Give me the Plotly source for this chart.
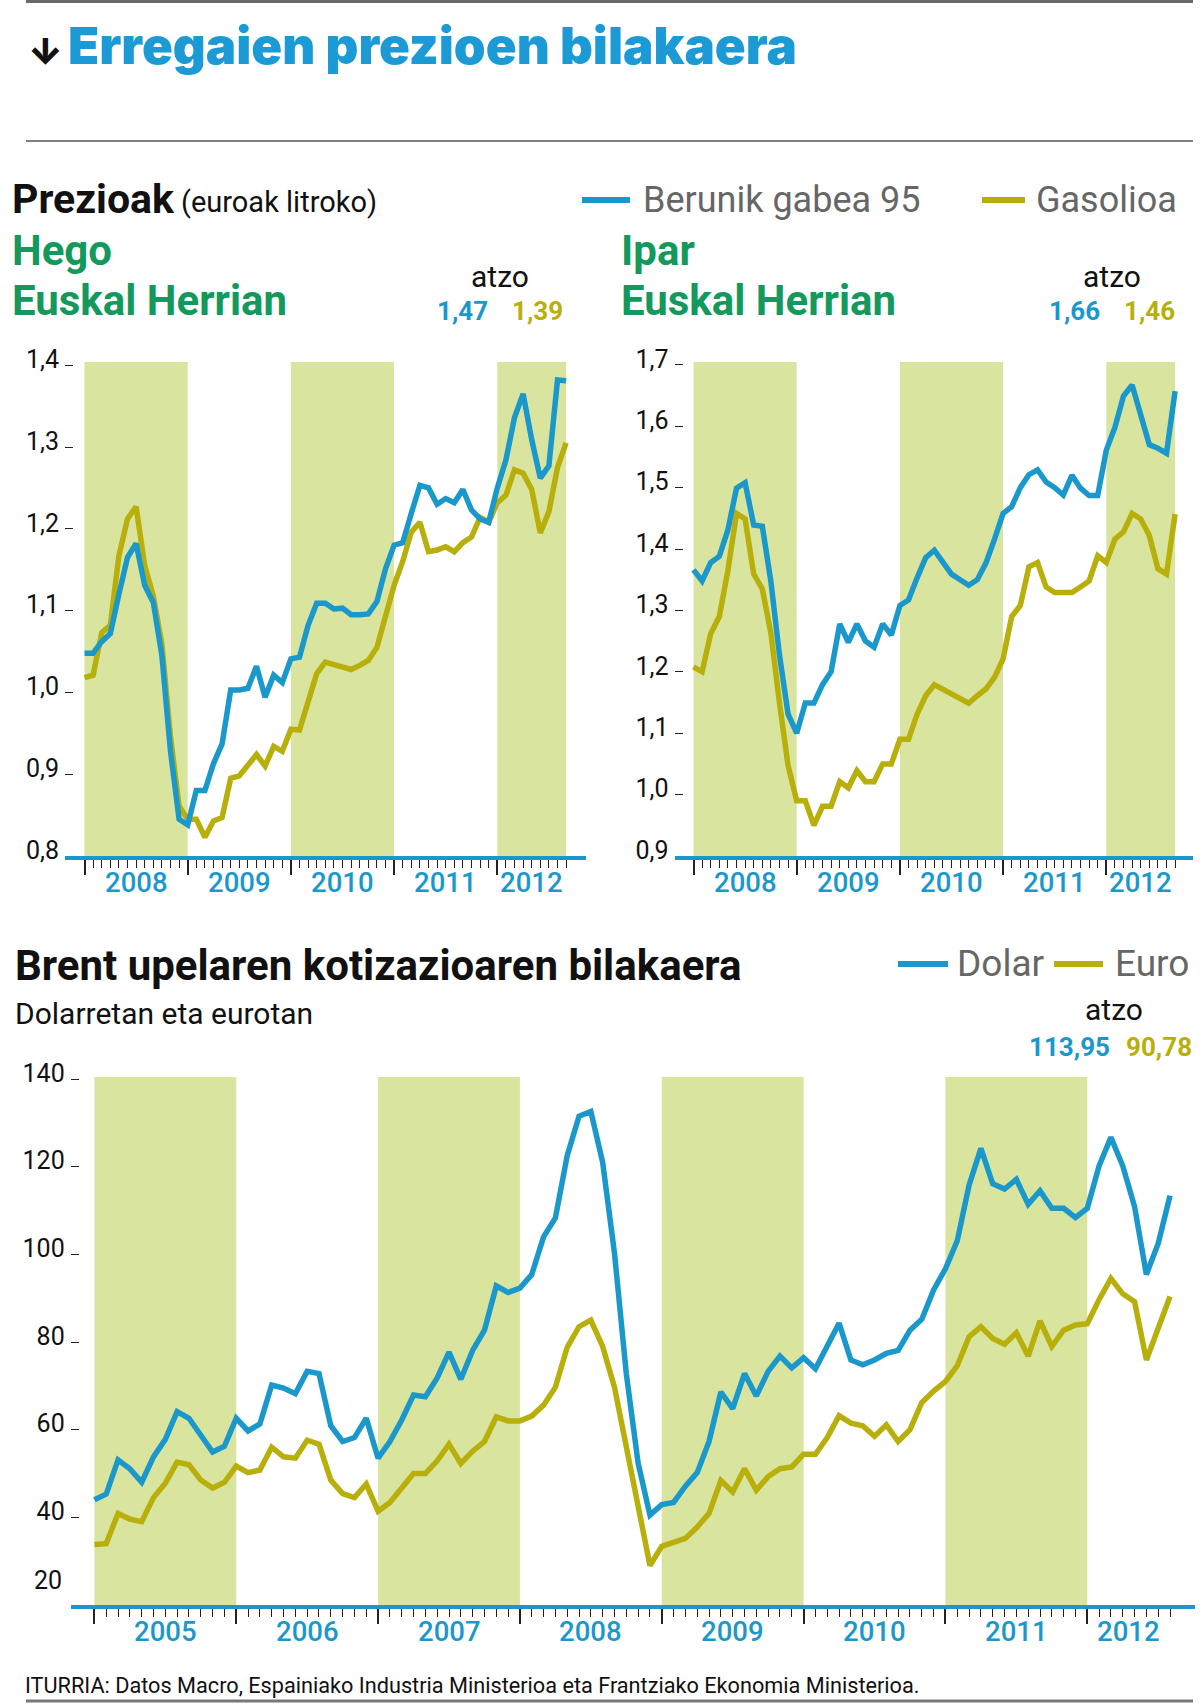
import plotly.graph_objects as go

W, H = 1200, 1704

# ---------------- DATA ----------------
top_years = [2008, 2009, 2010, 2011, 2012]
top_shaded_years = [2008, 2010, 2012]

# Hego Euskal Herria (euro / litro), monthly Jan 2008 - Sep 2012
hego_gasolina = [1.048, 1.048, 1.062, 1.072, 1.120, 1.165, 1.182, 1.131, 1.110, 1.045,
                 0.928, 0.845, 0.838, 0.880, 0.880, 0.913, 0.937, 1.003, 1.003, 1.005,
                 1.032, 0.994, 1.021, 1.012, 1.041, 1.043, 1.082, 1.109, 1.109, 1.102,
                 1.103, 1.095, 1.095, 1.096, 1.111, 1.151, 1.180, 1.183, 1.219, 1.253,
                 1.250, 1.230, 1.237, 1.232, 1.248, 1.223, 1.212, 1.208, 1.250, 1.284,
                 1.336, 1.365, 1.309, 1.262, 1.277, 1.382, 1.381]
hego_gasolioa = [1.018, 1.021, 1.073, 1.082, 1.167, 1.212, 1.227, 1.155, 1.118, 1.059,
                 0.946, 0.861, 0.845, 0.845, 0.823, 0.843, 0.847, 0.895, 0.898, 0.910,
                 0.924, 0.910, 0.934, 0.928, 0.955, 0.954, 0.991, 1.023, 1.037, 1.034,
                 1.031, 1.028, 1.033, 1.039, 1.055, 1.091, 1.131, 1.160, 1.196, 1.208,
                 1.172, 1.174, 1.178, 1.172, 1.183, 1.190, 1.214, 1.208, 1.232, 1.241,
                 1.272, 1.268, 1.248, 1.195, 1.221, 1.275, 1.305]

# Ipar Euskal Herria
ipar_gasolina = [1.366, 1.348, 1.378, 1.388, 1.431, 1.499, 1.508, 1.439, 1.437, 1.347,
                 1.227, 1.131, 1.100, 1.149, 1.149, 1.179, 1.200, 1.278, 1.248, 1.278,
                 1.250, 1.240, 1.278, 1.260, 1.308, 1.317, 1.353, 1.386, 1.398, 1.377,
                 1.359, 1.350, 1.341, 1.350, 1.377, 1.416, 1.458, 1.469, 1.500, 1.521,
                 1.529, 1.509, 1.500, 1.488, 1.520, 1.499, 1.487, 1.487, 1.561, 1.598,
                 1.649, 1.667, 1.616, 1.570, 1.564, 1.556, 1.657]
ipar_gasolioa = [1.208, 1.200, 1.262, 1.290, 1.365, 1.458, 1.449, 1.359, 1.335, 1.263,
                 1.149, 1.047, 0.990, 0.990, 0.950, 0.981, 0.981, 1.021, 1.011, 1.039,
                 1.021, 1.021, 1.050, 1.050, 1.090, 1.090, 1.131, 1.161, 1.179, 1.172,
                 1.164, 1.156, 1.149, 1.161, 1.172, 1.191, 1.221, 1.290, 1.308, 1.371,
                 1.378, 1.338, 1.329, 1.329, 1.329, 1.338, 1.348, 1.389, 1.378, 1.416,
                 1.428, 1.458, 1.449, 1.422, 1.368, 1.359, 1.457]

hego_ticks = [0.8, 0.9, 1.0, 1.1, 1.2, 1.3, 1.4]
hego_ticktext = ["0,8", "0,9", "1,0", "1,1", "1,2", "1,3", "1,4"]
ipar_ticks = [0.9, 1.0, 1.1, 1.2, 1.3, 1.4, 1.5, 1.6, 1.7]
ipar_ticktext = ["0,9", "1,0", "1,1", "1,2", "1,3", "1,4", "1,5", "1,6", "1,7"]

# Brent, monthly Jan 2005 - Aug 2012
brent_years = [2005, 2006, 2007, 2008, 2009, 2010, 2011, 2012]
brent_shaded_years = [2005, 2007, 2009, 2011]
brent_dolar = [44.0, 45.3, 53.1, 51.1, 48.0, 53.8, 57.8, 64.1, 62.6, 58.6,
               54.9, 56.2, 62.6, 59.7, 61.3, 70.2, 69.5, 68.2, 73.3, 72.8,
               60.9, 57.3, 58.2, 62.6, 53.5, 57.3, 62.2, 67.9, 67.5, 71.8,
               77.7, 71.5, 78.1, 82.7, 92.8, 91.3, 92.3, 95.4, 104.0, 108.3,
               122.5, 131.5, 132.6, 121.0, 100.3, 72.8, 52.4, 40.5, 42.9, 43.4,
               47.1, 50.2, 57.3, 68.6, 64.8, 72.8, 67.7, 73.3, 76.8, 74.1,
               76.4, 73.9, 78.8, 84.3, 75.9, 74.8, 75.9, 77.4, 78.1, 82.7,
               85.2, 91.9, 96.7, 103.1, 115.8, 124.2, 116.1, 114.9, 117.1, 111.4,
               114.5, 110.5, 110.5, 108.4, 110.5, 120.2, 126.7, 120.2, 110.9, 95.4,
               102.5, 113.4]
brent_euro = [33.8, 34.0, 40.9, 39.6, 39.0, 44.5, 47.8, 52.6, 52.0, 48.5,
              46.7, 48.0, 51.7, 50.2, 50.8, 56.0, 53.8, 53.5, 57.6, 56.7,
              48.5, 45.4, 44.5, 47.6, 41.4, 43.4, 46.7, 50.0, 50.0, 52.9,
              56.7, 52.3, 55.1, 57.3, 62.9, 62.0, 62.0, 63.1, 65.6, 69.7,
              78.8, 83.5, 85.0, 79.0, 69.7, 56.0, 41.4, 29.0, 33.4, 34.3,
              35.2, 37.8, 40.9, 48.4, 45.8, 51.1, 46.2, 49.3, 51.1, 51.5,
              54.4, 54.4, 58.2, 63.2, 61.5, 60.9, 58.5, 61.1, 57.3, 60.0,
              66.2, 68.8, 71.0, 74.6, 81.2, 83.5, 80.8, 79.5, 82.1, 76.8,
              84.8, 79.0, 82.7, 83.9, 84.2, 89.7, 94.5, 91.0, 89.2, 75.9,
              83.0, 90.4]
brent_ticks = [20, 40, 60, 80, 100, 120, 140]
brent_ticktext = ["", "40", "60", "80", "100", "120", "140"]

# ---------------- STYLE ----------------
BLUE = "#1b98cb"
OLIVE = "#b8af0b"
SHADE = "#d9e59f"
GREEN = "#14995c"
TITLE_BLUE = "#1b9ad5"
GRAY_TXT = "#666666"
FONT = "Roboto, 'Open Sans', sans-serif"
HEAVY = "Inter, Roboto, sans-serif"


def px(v):
    return v / W


def py(v):
    return 1 - v / H


fig = go.Figure()
shapes = []
annotations = []


def add_panel(idx, series, colors, first_year, years, shaded, x_dom_px, y_dom_px,
              x0_px, month_px, y_low, y_per_px, yticks, yticktext, label_y_px):
    xa = "x" if idx == 1 else f"x{idx}"
    ya = "y" if idx == 1 else f"y{idx}"
    n = len(series[0])
    months = list(range(n))
    for vals, col in zip(series, colors):
        fig.add_trace(go.Scatter(x=months, y=vals, mode="lines", xaxis=xa, yaxis=ya,
                                 line=dict(color=col, width=5.5), hoverinfo="skip",
                                 showlegend=False))
    xr = [(x_dom_px[0] - x0_px) / month_px, (x_dom_px[1] - x0_px) / month_px]
    yr = [y_low, y_low + (y_dom_px[1] - y_dom_px[0]) / y_per_px]
    year_starts = [12 * (yv - first_year) for yv in years]
    ydom = [py(y_dom_px[1]), py(y_dom_px[0])]
    fig.update_layout(**{
        ("xaxis" if idx == 1 else f"xaxis{idx}"): dict(
            domain=[px(x_dom_px[0]), px(x_dom_px[1])], range=xr, anchor=ya,
            showline=True, linecolor=BLUE, linewidth=4, showgrid=False, zeroline=False,
            showticklabels=False, ticks="outside", tickvals=year_starts,
            ticklen=15, tickwidth=1.5, tickcolor="#222", automargin=False,
            minor=dict(tickvals=months, ticks="outside", ticklen=8, tickwidth=1.3,
                       tickcolor="#222", showgrid=False),
            fixedrange=True),
        ("yaxis" if idx == 1 else f"yaxis{idx}"): dict(
            domain=ydom, range=yr, anchor=xa, automargin=False,
            showline=False, showgrid=False, zeroline=False,
            tickvals=yticks, ticktext=yticktext, ticks="inside", ticklen=8,
            tickwidth=1.3, tickcolor="#222",
            tickfont=dict(family=FONT, size=25, color="#111"),
            ticklabelshift=-6, ticklabelstandoff=5, fixedrange=True),
        f"yaxis{idx + 3}": dict(
            overlaying=ya, side="right", anchor=xa, range=yr, automargin=False,
            showline=False, showgrid=False, zeroline=False, showticklabels=False,
            tickvals=yticks[1:], ticks="inside", ticklen=9, tickwidth=1.3,
            tickcolor="#222", fixedrange=True),
    })
    for yv in shaded:
        s = 12 * (yv - first_year)
        e = min(s + 12, n - 1)
        shapes.append(dict(type="rect", xref=xa, yref=f"{ya} domain", x0=s, x1=e,
                           y0=0, y1=1, fillcolor=SHADE, line=dict(width=0), layer="below"))
    for yv in years:
        s = 12 * (yv - first_year)
        e = min(s + 12, n - 1)
        annotations.append(dict(text=str(yv), xref=xa, yref="paper", x=(s + e) / 2,
                                y=py(label_y_px), xanchor="center", yanchor="middle",
                                showarrow=False,
                                font=dict(family=FONT, size=27.5, color=BLUE, weight=500)))


add_panel(1, [hego_gasolioa, hego_gasolina], [OLIVE, BLUE], 2008, top_years,
          top_shaded_years, (65, 585.5), (362, 856), 84.5, 8.6, 0.8, 818,
          hego_ticks, hego_ticktext, 883)
add_panel(2, [ipar_gasolioa, ipar_gasolina], [OLIVE, BLUE], 2008, top_years,
          top_shaded_years, (674.5, 1193), (362, 856), 693.5, 8.6, 0.9, 614,
          ipar_ticks, ipar_ticktext, 883)
add_panel(3, [brent_euro, brent_dolar], [OLIVE, BLUE], 2005, brent_years,
          brent_shaded_years, (70.7, 1195), (1077, 1605), 94.4, 11.82, 20, 4.383,
          brent_ticks, brent_ticktext, 1631)


def txt(text, x, y, size, color="#111", weight=400, anchor="left", family=FONT):
    annotations.append(dict(text=text, xref="paper", yref="paper", x=px(x), y=py(y),
                            xanchor=anchor, yanchor="middle", showarrow=False,
                            font=dict(family=family, size=size, color=color, weight=weight)))


def hline(x0, x1, y, color, width):
    shapes.append(dict(type="line", xref="paper", yref="paper", x0=px(x0), x1=px(x1),
                       y0=py(y), y1=py(y), line=dict(color=color, width=width)))


# frame lines
hline(26, 1193, 1.5, "#6a6a6a", 3)
hline(26, 1193, 141, "#555555", 1.5)
hline(26, 1193, 1701, "#777777", 3)

# title
txt("↓", 26, 51, 36, "#111", 900, family=HEAVY)
txt("Erregaien prezioen bilakaera", 66, 45, 51, TITLE_BLUE, 900, family=HEAVY)

# price section header
txt("Prezioak", 10, 199, 41, "#111", 700)
txt("(euroak litroko)", 179, 202, 29, "#111", 400)
hline(582, 630, 200, BLUE, 6)
txt("Berunik gabea 95", 641, 200, 36, GRAY_TXT, 400)
hline(982, 1025, 200, OLIVE, 6)
txt("Gasolioa", 1034, 200, 36, GRAY_TXT, 400)

txt("Hego", 10, 250, 42, GREEN, 700)
txt("Euskal Herrian", 10, 300, 42, GREEN, 700)
txt("Ipar", 619, 250, 42, GREEN, 700)
txt("Euskal Herrian", 619, 300, 42, GREEN, 700)

txt("atzo", 500, 276, 30, "#111", 400, "center")
txt("1,47", 462, 311, 26, BLUE, 700, "center")
txt("1,39", 537, 311, 26, OLIVE, 700, "center")
txt("atzo", 1112, 276, 30, "#111", 400, "center")
txt("1,66", 1074, 311, 26, BLUE, 700, "center")
txt("1,46", 1149, 311, 26, OLIVE, 700, "center")

# brent header
txt("Brent upelaren kotizazioaren bilakaera", 13, 965, 42, "#111", 700)
txt("Dolarretan eta eurotan", 13, 1013, 30, "#111", 400)
hline(898, 948, 964, BLUE, 6)
txt("Dolar", 955, 964, 37, GRAY_TXT, 400)
hline(1054, 1103, 964, OLIVE, 6)
txt("Euro", 1113, 964, 37, GRAY_TXT, 400)
txt("atzo", 1114, 1010, 30, "#111", 400, "center")
txt("113,95", 1069, 1047, 26, BLUE, 700, "center")
txt("90,78", 1159, 1047, 26, OLIVE, 700, "center")

# lowest y label of brent panel sits above the axis line
annotations.append(dict(text="20", xref="paper", yref="y3", x=px(64), y=brent_ticks[0],
                        xanchor="right", yanchor="middle", yshift=25, showarrow=False,
                        font=dict(family=FONT, size=25, color="#111")))

# source
txt("ITURRIA: Datos Macro, Espainiako Industria Ministerioa eta Frantziako Ekonomia Ministerioa.",
    23, 1685, 21.7, "#111", 400)

fig.update_layout(width=W, height=H,
                  margin=dict(l=0, r=0, t=0, b=0, pad=0, autoexpand=False),
                  paper_bgcolor="white", plot_bgcolor="rgba(0,0,0,0)",
                  showlegend=False, shapes=shapes, annotations=annotations)

fig.write_html("out.html",
               config={"displayModeBar": False},
               post_script="document.body.style.margin='0';"
                           "document.body.style.overflow='hidden';")
